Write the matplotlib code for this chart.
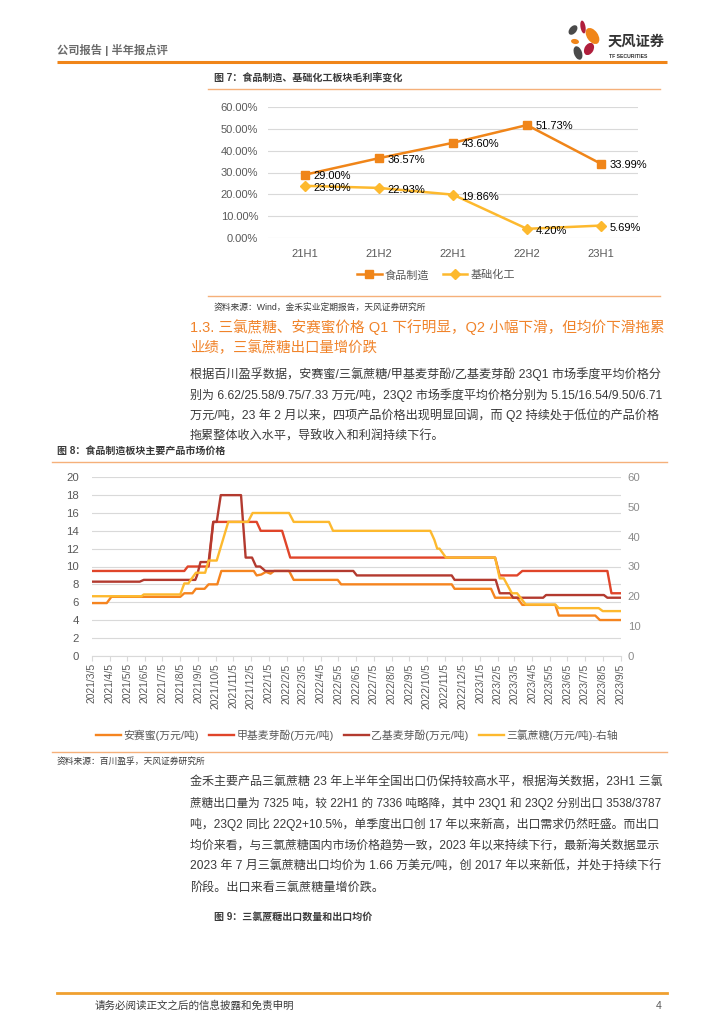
import pandas as pd
import matplotlib
matplotlib.use('Agg')
import matplotlib.pyplot as plt
import matplotlib.dates as mdates
from matplotlib.patches import Ellipse

plt.rcParams['font.family'] = ['Liberation Sans', 'Noto Sans CJK SC']

W, H = 724, 1024

# ---- chart 7 data: gross margin by half year (%)
periods = ['21H1', '21H2', '22H1', '22H2', '23H1']
food_margin = [29.00, 36.57, 43.60, 51.73, 33.99]
chem_margin = [23.90, 22.93, 19.86, 4.20, 5.69]

# ---- chart 8 data: market prices (万元/吨), step points
ace_dates = ['2021-03-05', '2021-03-31', '2021-04-08', '2021-08-05', '2021-08-12', '2021-08-26',
             '2021-09-01', '2021-09-16', '2021-09-23', '2021-10-08', '2021-10-15', '2021-12-10',
             '2021-12-15', '2021-12-23', '2021-12-31', '2022-01-08', '2022-01-14', '2022-02-09',
             '2022-02-17', '2022-05-04', '2022-05-10', '2022-11-17', '2022-11-22', '2023-01-24',
             '2023-01-31', '2023-03-10', '2023-03-19', '2023-05-15', '2023-05-21', '2023-07-23',
             '2023-07-31', '2023-09-05']
ace_price = [5.9, 5.9, 6.6, 6.6, 7.0, 7.0,
             7.5, 7.5, 8.0, 8.0, 9.5, 9.5,
             9.0, 9.1, 9.4, 9.2, 9.5, 9.5,
             8.5, 8.5, 8.0, 8.0, 7.5, 7.5,
             6.5, 6.5, 5.7, 5.7, 4.5, 4.5,
             4.0, 4.0]

mm_dates = ['2021-03-05', '2021-08-12', '2021-08-18', '2021-09-23', '2021-10-01', '2021-12-15',
            '2021-12-22', '2022-01-28', '2022-02-11', '2023-01-31', '2023-02-08', '2023-03-10',
            '2023-03-19', '2023-08-13', '2023-08-20', '2023-09-05']
mm_price = [9.5, 9.5, 10.0, 10.0, 15.0, 15.0,
            14.0, 14.0, 11.0, 11.0, 9.0, 9.0,
            9.5, 9.5, 7.0, 7.0]

em_dates = ['2021-03-05', '2021-05-27', '2021-06-03', '2021-08-31', '2021-09-03', '2021-09-09',
            '2021-09-23', '2021-10-01', '2021-10-07', '2021-10-14', '2021-11-18', '2021-11-26',
            '2021-12-07', '2021-12-14', '2021-12-21', '2021-12-30', '2022-05-31', '2022-06-06',
            '2022-11-17', '2022-11-22', '2023-02-01', '2023-02-08', '2023-02-26', '2023-03-03',
            '2023-04-24', '2023-04-29', '2023-08-07', '2023-08-13', '2023-09-05']
em_price = [8.3, 8.3, 8.5, 8.5, 9.0, 10.5,
            10.5, 15.0, 15.0, 18.0, 18.0, 11.0,
            11.0, 10.0, 10.0, 9.5, 9.5, 9.0,
            9.0, 8.5, 8.5, 7.0, 7.0, 6.5,
            6.5, 6.8, 6.8, 6.5, 6.5]

suc_dates = ['2021-03-05', '2021-05-30', '2021-06-03', '2021-08-05', '2021-08-12', '2021-08-19',
             '2021-08-25', '2021-09-01', '2021-09-17', '2021-09-23', '2021-10-07', '2021-10-27',
             '2021-11-30', '2021-12-08', '2022-02-09', '2022-02-17', '2022-04-19', '2022-04-26',
             '2022-10-11', '2022-10-18', '2022-10-23', '2022-10-27', '2022-11-07', '2023-01-31',
             '2023-02-08', '2023-02-15', '2023-03-01', '2023-03-10', '2023-03-25', '2023-05-15',
             '2023-05-21', '2023-07-29', '2023-08-05', '2023-09-05']
suc_price = [20.0, 20.0, 20.6, 20.6, 24.3, 24.3,
             26.0, 27.9, 27.9, 32.0, 32.0, 45.0,
             45.0, 48.0, 48.0, 45.0, 45.0, 42.0,
             42.0, 39.0, 36.0, 36.0, 33.0, 33.0,
             26.0, 26.0, 21.0, 21.0, 17.2, 17.2,
             16.0, 16.0, 15.0, 15.0]

series_names = ['安赛蜜(万元/吨)', '甲基麦芽酚(万元/吨)', '乙基麦芽酚(万元/吨)', '三氯蔗糖(万元/吨)-右轴']

ORANGE = '#F08519'
YELLOW = '#FDB92E'
GREY = '#595959'
TXT = '#3A3A3A'
GRID = '#D9D9D9'


def box(x0, y0, x1, y1):
    return [x0 / W, 1 - y1 / H, (x1 - x0) / W, (y1 - y0) / H]


fig = plt.figure(figsize=(7.24, 10.24), dpi=100)
page = fig.add_axes([0, 0, 1, 1])
page.set_xlim(0, W)
page.set_ylim(H, 0)
page.axis('off')
rend = fig.canvas.get_renderer()


def fit_line(x0, x1, y, line, fs, **kw):
    # paragraph lines run the full column width: nudge the size so the line fills x0..x1
    t = page.text(x0, y, line, fontsize=fs, va='center', **kw)
    w = t.get_window_extent(rend).width
    t.set_fontsize(fs * (x1 - x0) / w)


# ---- header
page.text(57, 50, '公司报告 | 半年报点评', fontsize=8.1, fontweight='bold', color='#6B6B6B', va='center')
page.plot([57, 667], [61.5, 61.5], color=ORANGE, lw=2.2, solid_capstyle='butt')
# logo petals
for (cx, cy, w, h, ang, col) in [(573, 30, 7, 11, 40, '#4A4A4A'), (583, 27, 5, 13, -10, '#B01E3C'),
                                  (592.5, 36, 11, 18, -35, ORANGE), (575, 41.5, 8, 5, 10, ORANGE),
                                  (589, 49, 9, 13, 30, '#B01E3C'), (578, 53, 8, 14, -20, '#4A4A4A')]:
    page.add_patch(Ellipse((cx, cy), w, h, angle=ang, color=col, lw=0))
page.text(608, 42, '天风证券', fontsize=10.3, fontweight='bold', color='#333333', va='center')
page.text(609, 56, 'TF SECURITIES', fontsize=3.7, fontweight='bold', color='#333333', va='center')

# ---- chart 7
page.text(214, 79, '图 7：食品制造、基础化工板块毛利率变化', fontsize=7.2, fontweight='bold', color=TXT, va='center')
page.plot([208, 660], [88.5, 88.5], color='#F5B07A', lw=1)
page.plot([208, 660], [296, 296], color='#F5B07A', lw=1)
page.text(214, 307, '资料来源：Wind，金禾实业定期报告，天风证券研究所', fontsize=6.3, color=TXT, va='center')

ax1 = fig.add_axes(box(268, 107, 638, 238))
ax1.set_facecolor('none')
xs = range(len(periods))
ax1.plot(xs, food_margin, color=ORANGE, lw=1.8, marker='s', ms=5.5, label='食品制造', zorder=3)
ax1.plot(xs, chem_margin, color=YELLOW, lw=1.8, marker='D', ms=5, label='基础化工', zorder=3)
for i, v in enumerate(food_margin):
    ax1.annotate(f'{v:.2f}%', (i, v), xytext=(6, -1), textcoords='offset points',
                 ha='left', va='center', fontsize=8, color='black')
for i, v in enumerate(chem_margin):
    ax1.annotate(f'{v:.2f}%', (i, v), xytext=(6, -1.5), textcoords='offset points',
                 ha='left', va='center', fontsize=8, color='black')
ax1.set_xlim(-0.5, len(periods) - 0.5)
ax1.set_ylim(0, 60)
ax1.set_yticks(range(0, 61, 10))
ax1.set_yticklabels([f'{v:.2f}%' for v in range(0, 61, 10)])
ax1.set_xticks(list(xs))
ax1.set_xticklabels(periods)
ax1.tick_params(length=0, labelsize=8, labelcolor=GREY)
ax1.tick_params(axis='y', pad=7)
ax1.tick_params(axis='x', pad=8)
ax1.grid(axis='y', color=GRID, lw=0.8)
ax1.set_axisbelow(True)
for s in ax1.spines.values():
    s.set_visible(False)
fig.legend(*ax1.get_legend_handles_labels(), loc='center', bbox_to_anchor=(436 / W, 1 - 275 / H),
           ncol=2, frameon=False, fontsize=8, handlelength=2.2, handletextpad=0.3, columnspacing=1.2,
           labelcolor=GREY)

# ---- section text
fit_line(190, 663, 327, '1.3. 三氯蔗糖、安赛蜜价格 Q1 下行明显，Q2 小幅下滑，但均价下滑拖累',
         10.4, color='#F0832A')
page.text(190, 348, '业绩，三氯蔗糖出口量增价跌', fontsize=10.4, color='#F0832A', va='center')
para1 = ['根据百川盈孚数据，安赛蜜/三氯蔗糖/甲基麦芽酚/乙基麦芽酚 23Q1 市场季度平均价格分',
         '别为 6.62/25.58/9.75/7.33 万元/吨，23Q2 市场季度平均价格分别为 5.15/16.54/9.50/6.71',
         '万元/吨，23 年 2 月以来，四项产品价格出现明显回调，而 Q2 持续处于低位的产品价格',
         '拖累整体收入水平，导致收入和利润持续下行。']
for k, line in enumerate(para1):
    if k < len(para1) - 1:
        fit_line(190, 663, 374 + 20.8 * k, line, 8.7, color=TXT)
    else:
        page.text(190, 374 + 20.8 * k, line, fontsize=8.7, color=TXT, va='center')

# ---- chart 8
page.text(57, 452, '图 8：食品制造板块主要产品市场价格', fontsize=7.2, fontweight='bold', color=TXT, va='center')
page.plot([52, 667], [462, 462], color='#F5B07A', lw=1)
page.plot([52, 667], [752, 752], color='#F5B07A', lw=1)
page.text(57, 761, '资料来源：百川盈孚，天风证券研究所', fontsize=6.3, color=TXT, va='center')

ax2 = fig.add_axes(box(91.7, 477.3, 620.7, 655.7))
ax2.set_facecolor('none')
l1, = ax2.plot(pd.to_datetime(ace_dates), ace_price, color='#F5841F', lw=1.7, label=series_names[0])
l2, = ax2.plot(pd.to_datetime(mm_dates), mm_price, color='#E0452A', lw=1.7, label=series_names[1])
l3, = ax2.plot(pd.to_datetime(em_dates), em_price, color='#B33A2F', lw=1.7, label=series_names[2])
ax2r = ax2.twinx()
l4, = ax2r.plot(pd.to_datetime(suc_dates), suc_price, color=YELLOW, lw=1.7, label=series_names[3])
ax2.set_ylim(0, 20)
ax2.set_yticks(range(0, 21, 2))
ax2r.set_ylim(0, 60)
ax2r.set_yticks(range(0, 61, 10))
ax2.set_xlim(pd.Timestamp('2021-03-05'), pd.Timestamp('2023-09-05'))
ax2.xaxis.set_major_locator(mdates.MonthLocator(bymonthday=5))
ax2.xaxis.set_major_formatter(plt.FuncFormatter(
    lambda v, pos: (lambda d: f'{d.year}/{d.month}/{d.day}')(mdates.num2date(v))))
ax2.tick_params(axis='x', length=3.5, color=GRID, labelsize=7.4, labelcolor=GREY, rotation=90, pad=2)
ax2.tick_params(axis='y', length=0, labelsize=8.2, labelcolor=GREY, pad=9)
ax2r.tick_params(axis='y', length=0, labelsize=8.2, labelcolor='#8C8C8C', pad=5)
ax2.grid(axis='y', color=GRID, lw=0.8)
ax2.set_axisbelow(True)
for a in (ax2, ax2r):
    for s in a.spines.values():
        s.set_visible(False)
ax2.spines['bottom'].set_visible(True)
ax2.spines['bottom'].set_color(GRID)
for t in ax2.get_xticklabels():
    t.set_va('top')
    t.set_ha('center')
fig.legend([l1, l2, l3, l4], series_names, loc='center', bbox_to_anchor=(357 / W, 1 - 735 / H),
           ncol=4, frameon=False, fontsize=7.8, handlelength=2.3, handletextpad=0.2, columnspacing=1.0,
           labelcolor=GREY)

# ---- second paragraph
para2 = ['金禾主要产品三氯蔗糖 23 年上半年全国出口仍保持较高水平，根据海关数据，23H1 三氯',
         '蔗糖出口量为 7325 吨，较 22H1 的 7336 吨略降，其中 23Q1 和 23Q2 分别出口 3538/3787',
         '吨，23Q2 同比 22Q2+10.5%，单季度出口创 17 年以来新高，出口需求仍然旺盛。而出口',
         '均价来看，与三氯蔗糖国内市场价格趋势一致，2023 年以来持续下行，最新海关数据显示',
         '2023 年 7 月三氯蔗糖出口均价为 1.66 万美元/吨，创 2017 年以来新低，并处于持续下行',
         '阶段。出口来看三氯蔗糖量增价跌。']
for k, line in enumerate(para2):
    if k < len(para2) - 1:
        fit_line(190, 663, 783 + 20.9 * k, line, 8.7, color=TXT)
    else:
        page.text(190, 783 + 20.9 * k, line, fontsize=8.7, color=TXT, va='center')
page.text(214, 917, '图 9：三氯蔗糖出口数量和出口均价', fontsize=7.2, fontweight='bold', color=TXT, va='center')

# ---- footer
page.plot([57, 667], [993, 993], color='#F0A030', lw=2)
page.text(95, 1006, '请务必阅读正文之后的信息披露和免责申明', fontsize=7.6, color=TXT, va='center')
page.text(662, 1006, '4', fontsize=7.6, color=GREY, va='center', ha='right')

fig.savefig('out.png', dpi=100)
